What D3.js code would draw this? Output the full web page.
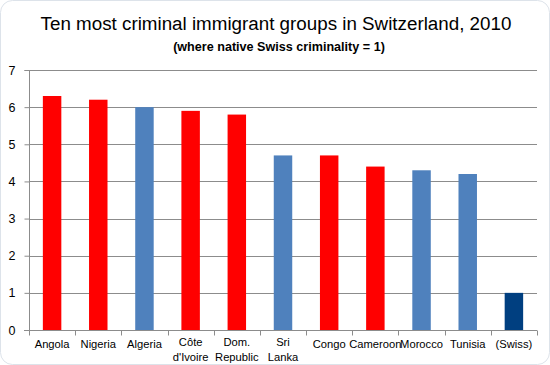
<!DOCTYPE html>
<html>
<head>
<meta charset="utf-8">
<script src="https://cdn.jsdelivr.net/npm/d3@7"></script>
<style>
	body { margin: 0; background: #fff; }
	svg { font-family: 'Liberation Sans', Arial, sans-serif; }
</style>
</head>
<body>
<div id="chart"></div>
<script>
// data
const countries = ['Angola', 'Nigeria', 'Algeria', 'Côte\nd\'Ivoire', 'Dom.\nRepublic', 'Sri\nLanka', 'Congo', 'Cameroon', 'Morocco', 'Tunisia', '(Swiss)']
const values = [6.3, 6.2, 6.0, 5.9, 5.8, 4.7, 4.7, 4.4, 4.3, 4.2, 1]
const groups = ['africa', 'africa', 'other', 'africa', 'africa', 'other', 'africa', 'africa', 'other', 'other', 'swiss']
const yTicks = [0, 1, 2, 3, 4, 5, 6, 7]

const colours = {africa: '#ff0000', other: '#4f81bd', swiss: '#003f80'}

const width = 550, height = 365
const margin = {top: 70, right: 13, bottom: 35, left: 29}

const svg = d3.select('#chart')
	.append('svg')
	.attr('width', width)
	.attr('height', height)

// faint rounded frame of the chart area
svg.append('rect')
	.attr('x', 0.5).attr('y', 0.5)
	.attr('width', width - 1).attr('height', height - 1)
	.attr('rx', 12)
	.attr('fill', 'none')
	.attr('stroke', '#dde3ea')

// titles
svg.append('text')
	.attr('x', 276).attr('y', 30)
	.attr('text-anchor', 'middle')
	.style('font-size', '18.8px')
	.attr('fill', '#000')
	.text('Ten most criminal immigrant groups in Switzerland, 2010')

svg.append('text')
	.attr('x', 279).attr('y', 51)
	.attr('text-anchor', 'middle')
	.style('font-size', '12.6px')
	.style('font-weight', 'bold')
	.attr('fill', '#000')
	.text('(where native Swiss criminality = 1)')

const x = d3.scaleBand()
	.domain(d3.range(countries.length))
	.range([margin.left, width - margin.right])
	.paddingInner(0.6)
	.paddingOuter(0.3)

const xTicks = d3.scaleBand()
	.domain(d3.range(countries.length))
	.range([margin.left, width - margin.right])

const y = d3.scaleLinear()
	.domain([0, 7])
	.range([height - margin.bottom, margin.top])

// gridlines
svg.append('g')
	.selectAll('line')
	.data(yTicks.filter(t => t > 0))
	.enter()
	.append('line')
	.attr('x1', margin.left)
	.attr('x2', width - margin.right)
	.attr('y1', d => Math.round(y(d)) + 0.5)
	.attr('y2', d => Math.round(y(d)) + 0.5)
	.attr('stroke', '#8c8c8c')

// bars
svg.append('g')
	.selectAll('rect')
	.data(values)
	.enter()
	.append('rect')
	.attr('x', (d, i) => x(i))
	.attr('width', x.bandwidth())
	.attr('y', d => y(d))
	.attr('height', d => y(0) - y(d))
	.attr('fill', (d, i) => colours[groups[i]])

// y axis
const yAxis = svg.append('g')
	.attr('transform', `translate(${margin.left + 0.5},0)`)
	.call(d3.axisLeft(y).tickValues(yTicks).tickFormat(d3.format('d')).tickSize(5).tickPadding(9))
yAxis.select('.domain').attr('stroke', '#8c8c8c').attr('d', `M-5,${y(7) + 0.5}H0V${y(0) + 0.5}`)
yAxis.selectAll('.tick line').attr('stroke', '#8c8c8c')
yAxis.selectAll('.tick text').style('font-size', '12.5px').attr('fill', '#000')

// x axis
const xAxis = svg.append('g')
	.attr('transform', `translate(0,${Math.round(y(0)) + 0.5})`)
xAxis.append('line')
	.attr('x1', margin.left - 5).attr('x2', width - margin.right)
	.attr('stroke', '#8c8c8c')
xAxis.selectAll('line.tick')
	.data(d3.range(countries.length + 1))
	.enter()
	.append('line')
	.attr('class', 'tick')
	.attr('x1', i => Math.round(margin.left + i * xTicks.bandwidth()) + 0.5)
	.attr('x2', i => Math.round(margin.left + i * xTicks.bandwidth()) + 0.5)
	.attr('y1', 0).attr('y2', 5)
	.attr('stroke', '#8c8c8c')

const labels = xAxis.selectAll('text')
	.data(countries)
	.enter()
	.append('text')
	.attr('text-anchor', 'middle')
	.attr('transform', (d, i) => `translate(${xTicks(i) + xTicks.bandwidth() / 2},0)`)
	.style('font-size', '11.2px')
	.attr('fill', '#000')
labels.each(function (d) {
	const lines = d.split('\n')
	const t = d3.select(this)
	lines.forEach((l, k) => {
		t.append('tspan')
			.attr('x', 0)
			.attr('y', lines.length > 1 ? 15 + k * 15 : 17)
			.text(l)
	})
})
</script>
</body>
</html>
